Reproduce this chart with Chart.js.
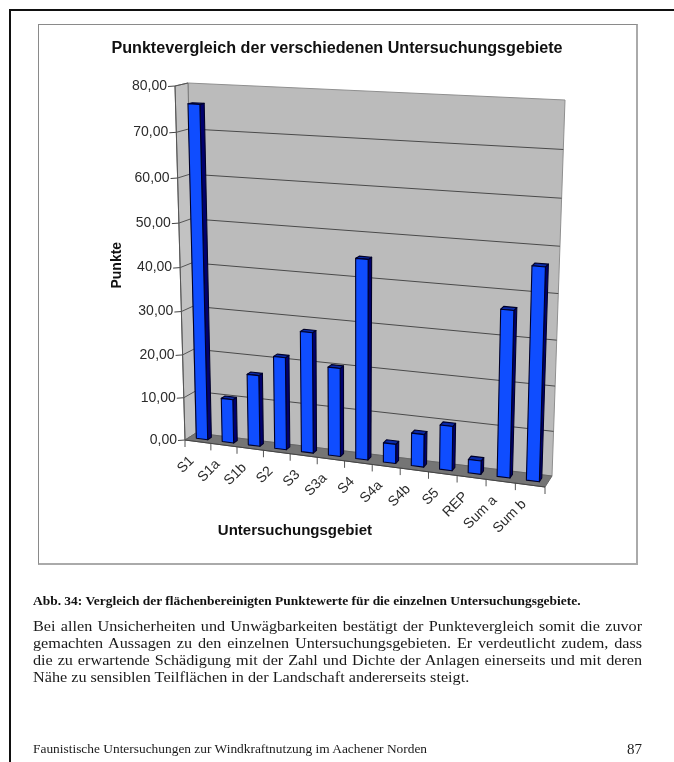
<!DOCTYPE html>
<html lang="de"><head><meta charset="utf-8">
<script src="https://cdn.jsdelivr.net/npm/chart.js@4"></script>
<style>
html,body{margin:0;padding:0;background:#fff;width:674px;height:762px;overflow:hidden}
#page{position:absolute;left:0;top:0;width:674px;height:762px;filter:blur(.4px)}
#tb{position:absolute;left:9px;top:9px;right:0;height:2px;background:#111}
#lb{position:absolute;left:9px;top:9px;bottom:0;width:2px;background:#111}
#box{position:absolute;left:38px;top:24px;width:597px;height:538px;border:1px solid #8a8a8a;border-right:2px solid #aaa;border-bottom:2px solid #aaa}
canvas{position:absolute;left:39px;top:25px}
.t{position:absolute;font-family:"Liberation Serif",serif;color:#1a1a1a;white-space:nowrap;transform-origin:0 0}
#cap{left:33px;top:594px;font-size:12.6px;font-weight:bold;color:#111;transform:scaleX(1.067)}
#body{left:33px;top:618px;width:564px;font-size:15px;line-height:17px;white-space:normal;text-align:justify;transform:scaleX(1.08)}
#foot{left:33px;top:742px;font-size:12.6px;transform:scaleX(1.063)}
#num{left:627px;top:741px;font-size:15px}
</style></head><body>
<div id="page">
<div id="tb"></div><div id="lb"></div><div id="box"></div>
<canvas id="c" width="596" height="537"></canvas>
<div class="t" id="cap">Abb. 34: Vergleich der flächenbereinigten Punktewerte für die einzelnen Untersuchungsgebiete.</div>
<div class="t" id="body">Bei allen Unsicherheiten und Unwägbarkeiten bestätigt der Punktevergleich somit die zuvor gemachten Aussagen zu den einzelnen Untersuchungsgebieten. Er verdeutlicht zudem, dass die zu erwartende Schädigung mit der Zahl und Dichte der Anlagen einerseits und mit deren Nähe zu sensiblen Teilflächen in der Landschaft andererseits steigt.</div>
<div class="t" id="foot">Faunistische Untersuchungen zur Windkraftnutzung im Aachener Norden</div>
<div class="t" id="num">87</div>
</div>
<script>
const categories = ["S1","S1a","S1b","S2","S3","S3a","S4","S4a","S4b","S5","REP","Sum a","Sum b"];
const punkte = [76, 10.2, 16.5, 21.3, 27.6, 20.2, 45, 4.4, 7.4, 10, 3, 36.8, 46.6];
const yMax = 80;
const yStep = 10;
const chartTitle = "Punktevergleich der verschiedenen Untersuchungsgebiete";
const yTitle = "Punkte";
const xTitle = "Untersuchungsgebiet";

// perspective frame, canvas offset is page (39,25)
const OX = 39, OY = 25;
const FRONT = [[175,86],[555,107],[545,487],[185,440]]; // TL TR BR BL
const BACK  = [[188,83],[565,100],[552,476],[196,433]];
const BAR_D0 = 0.38, BAR_D1 = 0.72;

function squareToQuad(q){
  const [[x0,y0],[x1,y1],[x2,y2],[x3,y3]] = q;
  const dx1=x1-x2, dx2=x3-x2, sx=x0-x1+x2-x3;
  const dy1=y1-y2, dy2=y3-y2, sy=y0-y1+y2-y3;
  const den=dx1*dy2-dx2*dy1;
  const g=(sx*dy2-dx2*sy)/den, h=(dx1*sy-sx*dy1)/den;
  const a=x1-x0+g*x1, b=x3-x0+h*x3, c=x0, d=y1-y0+g*y1, e=y3-y0+h*y3, f=y0;
  return (u,w)=>{const k=g*u+h*w+1;return [(a*u+b*w+c)/k,(d*u+e*w+f)/k];};
}
const hF = squareToQuad(FRONT), hB = squareToQuad(BACK);
// u: 0..1 along categories, v: 0..1 up the value axis, d: 0 front .. 1 back
function proj(u,v,d){
  const p=hF(u,1-v), q=hB(u,1-v);
  return [p[0]+(q[0]-p[0])*d-OX, p[1]+(q[1]-p[1])*d-OY];
}
function poly(ctx,pts,fill,stroke,lw){
  ctx.beginPath();
  pts.forEach((p,i)=>i?ctx.lineTo(p[0],p[1]):ctx.moveTo(p[0],p[1]));
  ctx.closePath();
  if(fill){ctx.fillStyle=fill;ctx.fill();}
  if(stroke){ctx.strokeStyle=stroke;ctx.lineWidth=lw||1;ctx.stroke();}
}
function line(ctx,a,b,col,lw){
  ctx.beginPath();ctx.moveTo(a[0],a[1]);ctx.lineTo(b[0],b[1]);
  ctx.strokeStyle=col;ctx.lineWidth=lw||1;ctx.stroke();
}
const fmt = v => v.toFixed(2).replace(".",",");

const frame3d = {
  id:"frame3d",
  beforeDatasetsDraw(chart){
    const ctx=chart.ctx, ys=chart.scales.y, xs=chart.scales.x, A=chart.chartArea;
    const vOf=t=>(A.bottom-ys.getPixelForValue(t))/(A.bottom-A.top);
    ctx.save();
    poly(ctx,[proj(0,1,1),proj(1,1,1),proj(1,0,1),proj(0,0,1)],"#bbbbbb","#8f8f8f",1);
    poly(ctx,[proj(0,1,0),proj(0,1,1),proj(0,0,1),proj(0,0,0)],"#c2c2c2","#777",1);
    poly(ctx,[proj(0,0,0),proj(1,0,0),proj(1,0,1),proj(0,0,1)],"#757575","#666",1);
    ctx.font="14px 'Liberation Sans', Arial, sans-serif";
    ctx.fillStyle="#2b2b2b";
    ys.ticks.forEach(t=>{
      const v=vOf(t.value), f=proj(0,v,0);
      if(t.value>0 && t.value<yMax){
        line(ctx,proj(0,v,1),proj(1,v,1),"#4a4a4a",1);
      }
      if(t.value>0) line(ctx,f,proj(0,v,1),"#555",1);
      line(ctx,[f[0]-7,f[1]+.5],f,"#444",1);
      ctx.textAlign="right";ctx.textBaseline="middle";
      ctx.fillText(fmt(t.value),f[0]-8,f[1]);
    });
    const n=categories.length;
    for(let i=0;i<=n;i++){
      const f=proj(i/n,0,0);
      line(ctx,f,[f[0],f[1]+7],"#555",1);
    }
    categories.forEach((lab,i)=>{
      const f=proj((xs.getPixelForValue(i)-A.left)/(A.right-A.left),0,0);
      ctx.save();
      ctx.translate(f[0]-6,f[1]+17);
      ctx.rotate(-Math.PI/4);
      ctx.textAlign="right";ctx.textBaseline="middle";
      ctx.fillText(lab,0,0);
      ctx.restore();
    });
    line(ctx,proj(0,0,0),proj(1,0,0),"#444",1);
    line(ctx,proj(0,0,0),proj(0,1,0),"#555",1);
    ctx.restore();
  },
  beforeDatasetDraw(chart,args){
    const ctx=chart.ctx, A=chart.chartArea, W=A.right-A.left, H=A.bottom-A.top;
    ctx.save();
    ctx.lineJoin="round";
    args.meta.data.forEach(el=>{
      const {x,y,base,width}=el.getProps(["x","y","base","width"],true);
      const u0=(x-width/2-A.left)/W, u1=(x+width/2-A.left)/W;
      const vT=(A.bottom-y)/H, vB=(A.bottom-base)/H;
      const d0=BAR_D0,d1=BAR_D1, K="#000028";
      poly(ctx,[proj(u1,vT,d0),proj(u1,vT,d1),proj(u1,vB,d1),proj(u1,vB,d0)],"#00006e",K,1.1);
      poly(ctx,[proj(u0,vT,d0),proj(u0,vT,d1),proj(u1,vT,d1),proj(u1,vT,d0)],"#0a2aa8",K,1.1);
      poly(ctx,[proj(u0,vT,d0),proj(u1,vT,d0),proj(u1,vB,d0),proj(u0,vB,d0)],el.options.backgroundColor,K,1.1);
    });
    ctx.restore();
    return false;
  }
};

const FONT = "'Liberation Sans',Arial,sans-serif";
new Chart(document.getElementById("c"),{
  type:"bar",
  data:{labels:categories,datasets:[{label:yTitle,data:punkte,backgroundColor:"#0f4dff",barPercentage:.44,categoryPercentage:1}]},
  plugins:[frame3d],
  options:{
    responsive:false,animation:false,
    layout:{padding:{left:0,right:0,top:6,bottom:22}},
    plugins:{
      legend:{display:false},tooltip:{enabled:false},
      title:{display:true,text:chartTitle,color:"#111",font:{family:FONT,size:16.15,weight:"bold"},padding:{top:8,bottom:24}}
    },
    scales:{
      x:{grid:{display:false},border:{display:false},ticks:{display:false},
        title:{display:true,text:xTitle,color:"#111",font:{family:FONT,size:15,weight:"bold"},padding:{top:66,bottom:0}}},
      y:{min:0,max:yMax,grid:{display:false},border:{display:false},ticks:{display:false,stepSize:yStep},
        title:{display:true,text:yTitle,color:"#111",font:{family:FONT,size:14,weight:"bold"},padding:{top:70,bottom:0}}},
      spacer:{axis:"y",position:"right",grid:{display:false},border:{display:false},ticks:{display:false},afterFit(s){s.width=179;}}
    }
  }
});
</script>
</body></html>
